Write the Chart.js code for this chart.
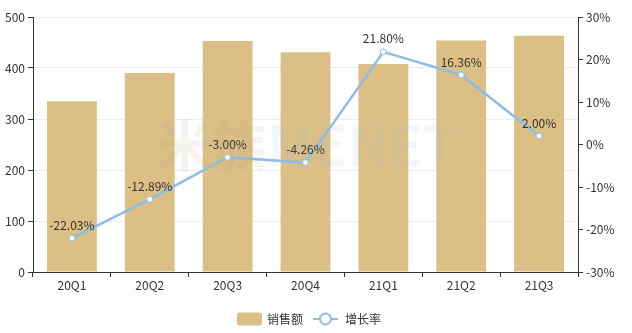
<!DOCTYPE html>
<html>
<head>
<meta charset="utf-8">
<script src="https://cdn.jsdelivr.net/npm/chart.js@4/dist/chart.umd.min.js"></script>
<style>
  html, body { margin: 0; padding: 0; background: #fff; }
  #wrap { width: 632px; height: 333px; }
</style>
</head>
<body>
<div id="wrap"><canvas id="chart" width="632" height="333"></canvas></div>
<script>
const quarters = ['20Q1', '20Q2', '20Q3', '20Q4', '21Q1', '21Q2', '21Q3'];
const sales = [335, 390, 453, 431, 408, 454, 463];
const growth = [-22.03, -12.89, -3.00, -4.26, 21.80, 16.36, 2.00];
const seriesNames = ['销售额', '增长率'];

const barColor = '#dbbf85';
const lineColor = '#8dbde6';
const textColor = '#333';
const fontFamily = '"Microsoft YaHei", "Noto Sans CJK SC", sans-serif';

// labels above the line points
const pointLabels = {
  id: 'pointLabels',
  afterDatasetsDraw(chart) {
    const ctx = chart.ctx;
    const meta = chart.getDatasetMeta(0);
    ctx.save();
    ctx.font = '12px ' + fontFamily;
    ctx.fillStyle = textColor;
    ctx.textAlign = 'center';
    ctx.textBaseline = 'bottom';
    meta.data.forEach((pt, i) => {
      ctx.fillText(growth[i].toFixed(2) + '%', pt.x, pt.y - 7);
    });
    ctx.restore();
  }
};

// faint watermark
const watermark = {
  id: 'watermark',
  afterDatasetsDraw(chart) {
    const ctx = chart.ctx;
    ctx.save();
    ctx.font = 'bold 55px ' + fontFamily;
    ctx.textBaseline = 'middle';
    ctx.textAlign = 'left';
    ctx.fillStyle = 'rgba(170,150,120,0.10)';
    ctx.fillText('米族', 157, 145);
    const w = ctx.measureText('米族').width;
    ctx.fillStyle = 'rgba(140,180,225,0.11)';
    ctx.fillText('MENET', 157 + w, 145);
    ctx.restore();
  }
};

// bottom legend: rounded swatch for bars, line with hollow circle for the line
const customLegend = {
  id: 'customLegend',
  afterDraw(chart) {
    const ctx = chart.ctx;
    const y = 319;
    ctx.save();
    ctx.font = '12px ' + fontFamily;
    ctx.textBaseline = 'middle';
    ctx.fillStyle = barColor;
    const x0 = 237;
    ctx.beginPath();
    ctx.roundRect(x0, y - 6.5, 25, 13, 3);
    ctx.fill();
    ctx.fillStyle = textColor;
    ctx.fillText(seriesNames[0], x0 + 30, y);
    const x1 = 313;
    ctx.strokeStyle = lineColor;
    ctx.lineWidth = 2;
    ctx.beginPath();
    ctx.moveTo(x1, y);
    ctx.lineTo(x1 + 25, y);
    ctx.stroke();
    ctx.beginPath();
    ctx.arc(x1 + 12.5, y, 5.5, 0, Math.PI * 2);
    ctx.fillStyle = '#fff';
    ctx.fill();
    ctx.stroke();
    ctx.fillStyle = textColor;
    ctx.fillText(seriesNames[1], x1 + 32, y);
    ctx.restore();
  }
};

const chartCanvas = document.getElementById('chart');
const chartContext = chartCanvas.getContext('2d');

new Chart(chartContext, {
  data: {
    labels: quarters,
    datasets: [
      {
        type: 'line',
        label: seriesNames[1],
        data: growth,
        yAxisID: 'y1',
        borderColor: lineColor,
        borderWidth: 2.5,
        pointRadius: 3,
        pointBorderWidth: 1,
        pointBackgroundColor: '#fff',
        pointBorderColor: lineColor,
        tension: 0,
        order: 0
      },
      {
        type: 'bar',
        label: seriesNames[0],
        data: sales,
        yAxisID: 'y',
        backgroundColor: barColor,
        categoryPercentage: 0.64,
        barPercentage: 1,
        order: 1
      }
    ]
  },
  options: {
    responsive: false,
    animation: false,
    layout: { padding: { top: 17, bottom: 0, left: 0, right: 0 } },
    plugins: {
      legend: { display: false },
      tooltip: { enabled: false }
    },
    scales: {
      x: {
        offset: true,
        grid: { display: true, offset: true, drawOnChartArea: false, tickLength: 5, color: textColor },
        border: { color: textColor },
        ticks: { color: textColor, font: { size: 12, family: fontFamily }, padding: 1 },
        afterFit(scale) { scale.height = 61; }
      },
      y: {
        position: 'left',
        min: 0,
        max: 500,
        ticks: { stepSize: 100, color: textColor, font: { size: 12, family: fontFamily }, padding: 3 },
        grid: { color: '#ececec', tickLength: 5, tickColor: textColor },
        border: { color: textColor },
        afterFit(scale) { scale.width = 33; }
      },
      y1: {
        position: 'right',
        min: -30,
        max: 30,
        ticks: { stepSize: 10, color: textColor, font: { size: 12, family: fontFamily }, padding: 3,
          callback: v => v + '%' },
        grid: { drawOnChartArea: false, tickLength: 5, color: textColor },
        border: { color: textColor },
        afterFit(scale) { scale.width = 54; }
      }
    }
  },
  plugins: [pointLabels, watermark, customLegend]
});
</script>
</body>
</html>
